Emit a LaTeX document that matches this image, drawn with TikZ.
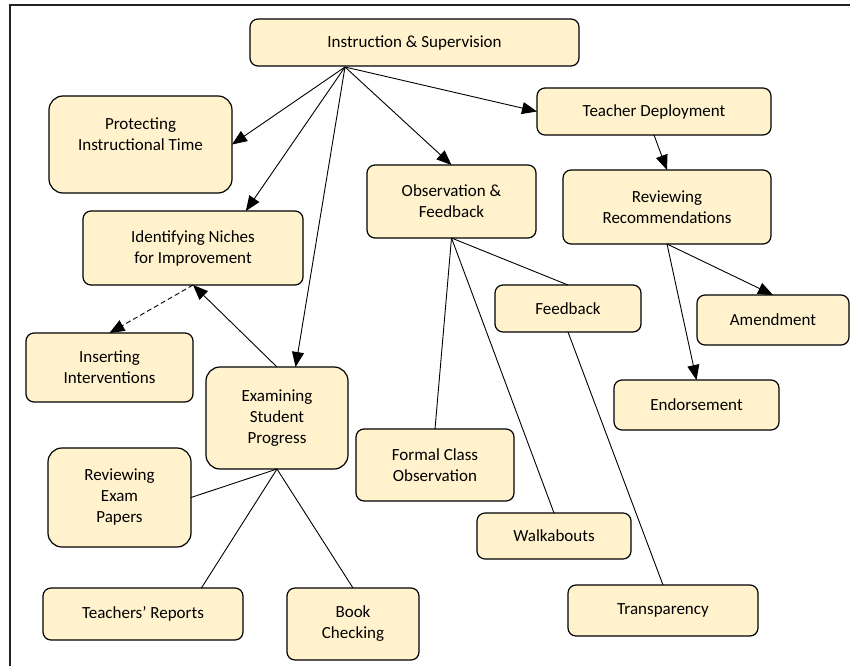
\documentclass[tikz,border=0pt]{standalone}
\usepackage{fontspec}
\setmainfont{Carlito}
\usepackage{tikz}
\usetikzlibrary{arrows.meta}
\definecolor{cream}{HTML}{FFF2CC}
\definecolor{framegray}{HTML}{222222}
\tikzset{
  box/.style={draw, line width=1.2pt, fill=cream, rounded corners=8pt, align=center,
    inner sep=2pt, outer sep=0pt, font=\fontsize{17}{21}\selectfont},
  tallbox/.style={box, rounded corners=14pt},
  link/.style={draw, line width=0.9pt},
  arr/.style={link, -{Triangle[length=15pt,width=12pt]}},
}

\begin{document}
\begin{tikzpicture}[x=1pt,y=-1pt]
            \useasboundingbox (0,0) rectangle (850,666);
            \draw[framegray, line width=2.4pt] (850,5) -| (10,666);

            \node[box, minimum width=329pt, minimum height=47pt] (instr) at (414.5,42.5) {Instruction \& Supervision};
            \node[tallbox, minimum width=183pt, minimum height=97pt] (protect) at (140.5,144.5) {Protecting\\Instructional Time\\~};
            \node[box, minimum width=220pt, minimum height=74pt] (ident) at (193,248) {Identifying Niches\\for Improvement};
            \node[box, minimum width=167pt, minimum height=69pt] (insert) at (109.5,367.5) {Inserting\\Interventions};
            \node[tallbox, minimum width=142pt, minimum height=102pt] (exam) at (277,418) {Examining\\Student\\Progress};
            \node[tallbox, minimum width=143pt, minimum height=99pt] (rexam) at (119.5,497.5) {Reviewing\\Exam\\Papers};
            \node[box, minimum width=200pt, minimum height=52pt] (treport) at (143,614) {Teachers’ Reports};
            \node[box, minimum width=132pt, minimum height=72pt] (bcheck) at (353,624) {Book\\Checking};
            \node[box, minimum width=169pt, minimum height=73pt] (obs) at (451.5,201.5) {Observation \&\\Feedback};
            \node[box, minimum width=234pt, minimum height=47pt] (deploy) at (654,111.5) {Teacher Deployment};
            \node[box, minimum width=208pt, minimum height=74pt] (review) at (667,207) {Reviewing\\Recommendations};
            \node[box, minimum width=146pt, minimum height=47pt] (fback) at (568,308.5) {Feedback};
            \node[box, minimum width=152pt, minimum height=50pt] (amend) at (773,320) {Amendment};
            \node[box, minimum width=165pt, minimum height=50pt] (endorse) at (696.5,405) {Endorsement};
            \node[box, minimum width=158pt, minimum height=72pt] (formal) at (435,465) {Formal Class\\Observation};
            \node[box, minimum width=154pt, minimum height=46pt] (walk) at (554,536) {Walkabouts};
            \node[box, minimum width=190pt, minimum height=51pt] (transp) at (663,610.5) {Transparency};

            \coordinate (hub) at (345,67);

            % arrows from the top box
            \draw[arr] (hub) -- (protect.east);
            \draw[arr] (hub) -- (ident.35);
            \draw[arr] (hub) -- (exam.70);
            \draw[arr] (hub) -- (obs.north);
            \draw[arr] (hub) -- (deploy.west);
            \draw[arr] (deploy.south) -- (review.north);
            \draw[arr] (review.south) -- (amend.north);
            \draw[arr] (review.south) -- (endorse.north);
            \draw[arr] (exam.north) -- (ident.south);
            \draw[arr, dash pattern=on 5pt off 3pt] (ident.south) -- (insert.north);

            % plain links
            \draw[link] (obs.south) -- (formal.north);
            \draw[link] (obs.south) -- (walk.north);
            \draw[link] (obs.south) -- (fback.north);
            \draw[link] (fback.south) -- (transp.north);
            \draw[link] (exam.south) -- (rexam.east);
            \draw[link] (exam.south) -- (treport.24.5);
            \draw[link] (exam.south) -- (bcheck.north);
          \end{tikzpicture}
\end{document}
